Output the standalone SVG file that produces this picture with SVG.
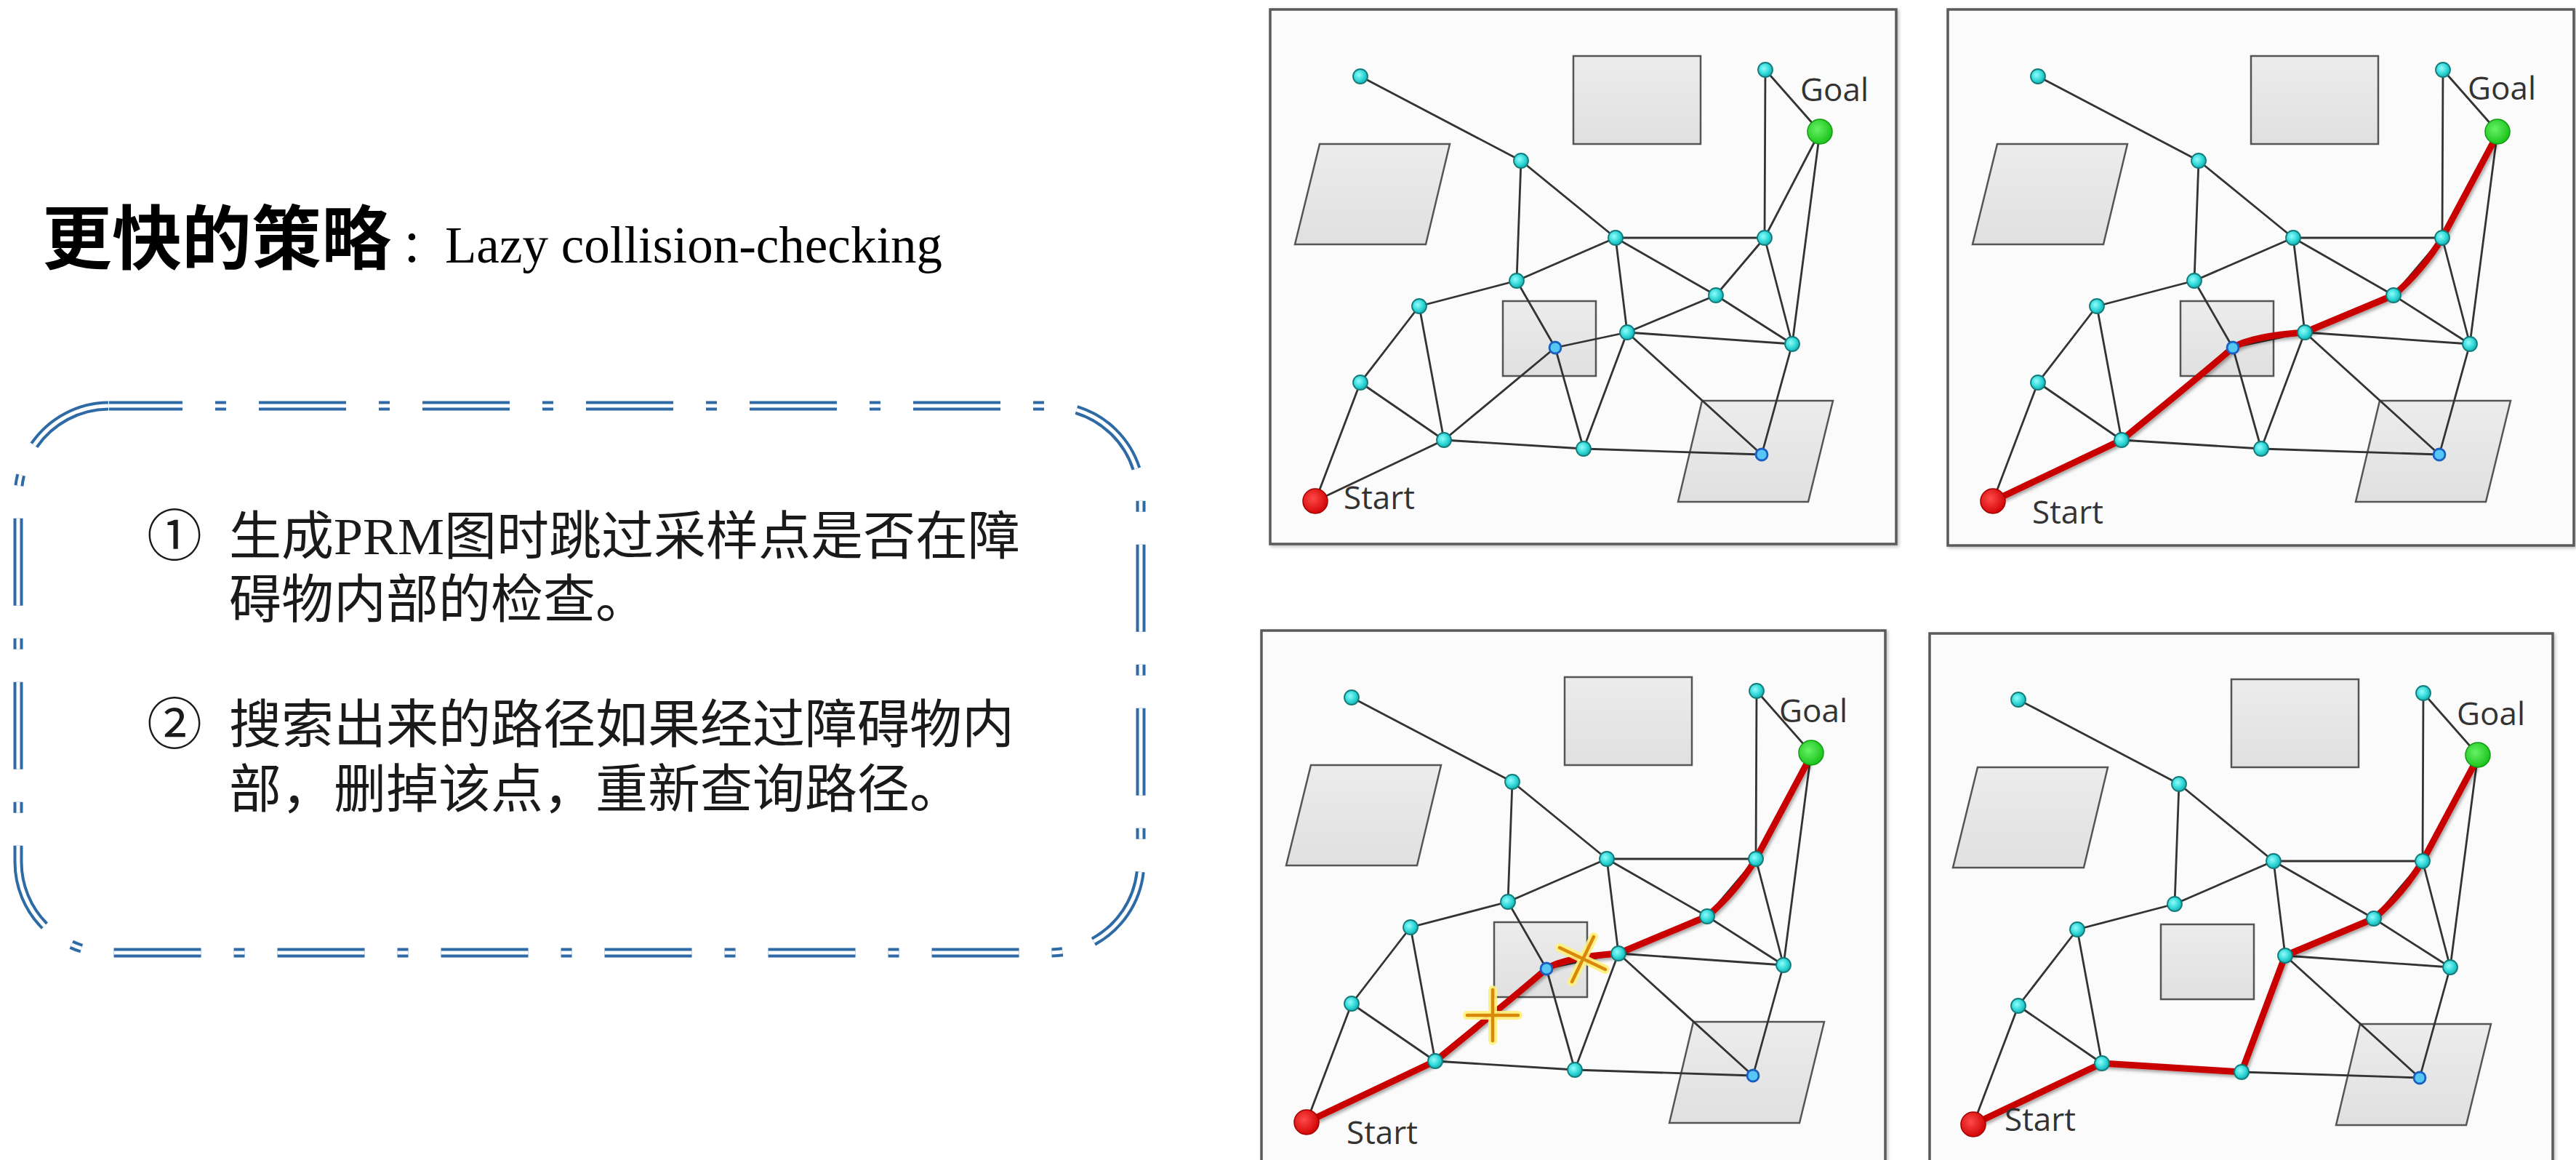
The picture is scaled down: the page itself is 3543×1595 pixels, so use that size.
<svg xmlns="http://www.w3.org/2000/svg" width="3543" height="1595" viewBox="0 0 3543 1595">
<defs>
<style>
.frame{fill:#fbfbfb;stroke:#5a5a5a;stroke-width:3.5;filter:url(#fsh)}
.obs{fill:url(#obsG);stroke:#555555;stroke-width:2.5}
.edge line{stroke:#333333;stroke-width:2.8;stroke-linecap:round}
.path{fill:none;stroke:#c80000;stroke-width:9;stroke-linejoin:round;stroke-linecap:round;filter:url(#sh)}
.dot{fill:url(#cy);stroke:#137a7a;stroke-width:1.8}
.bdot{fill:#56c6f4;stroke:#1a5fc0;stroke-width:2.8}
.goal{fill:url(#gr);stroke:#129a12;stroke-width:1.5}
.start{fill:url(#rd);stroke:#a00000;stroke-width:1.5}
.lbl{font-family:"Open Sans","Liberation Sans",sans-serif;font-size:44px;fill:#333}
.cjk{font-family:"Noto Sans CJK SC","Noto Sans CJK JP",sans-serif}
.bd1{fill:none;stroke:#2e6aa6;stroke-width:13;stroke-dasharray:120 45 15 45;stroke-dashoffset:19}
.bd2{fill:none;stroke:#ffffff;stroke-width:5;stroke-dasharray:120 45 15 45;stroke-dashoffset:19}
.glow{stroke:#fff27a;stroke-width:12;stroke-linecap:round;opacity:.9}
.cross{stroke:#d9880c;stroke-width:4.5;stroke-linecap:round}
.body{font-family:"Noto Sans CJK SC","Noto Sans CJK JP",sans-serif;font-size:72px;fill:#1a1a1a}
</style>
<radialGradient id="cy" cx="0.4" cy="0.4" r="0.65"><stop offset="0" stop-color="#8ffcfc"/><stop offset="0.6" stop-color="#2fd6d6"/><stop offset="1" stop-color="#15a8a8"/></radialGradient>
<radialGradient id="gr" cx="0.4" cy="0.4" r="0.65"><stop offset="0" stop-color="#66f266"/><stop offset="1" stop-color="#17c017"/></radialGradient>
<radialGradient id="rd" cx="0.4" cy="0.4" r="0.65"><stop offset="0" stop-color="#ff4a4a"/><stop offset="1" stop-color="#d00000"/></radialGradient>
<linearGradient id="obsG" x1="0" y1="0" x2="0" y2="1"><stop offset="0" stop-color="#ececec"/><stop offset="1" stop-color="#e0e0e0"/></linearGradient>
<filter id="sh" x="-10%" y="-10%" width="120%" height="120%"><feDropShadow dx="2" dy="3" stdDeviation="2" flood-color="#000" flood-opacity="0.35"/></filter>
<filter id="fsh" x="-2%" y="-2%" width="104%" height="104%"><feDropShadow dx="2" dy="2" stdDeviation="2" flood-color="#000" flood-opacity="0.25"/></filter>
</defs>
<rect width="3543" height="1595" fill="#ffffff"/>

<g id="title">
<text y="362" fill="#000"><tspan x="58" class="cjk" font-size="96" font-weight="700">更快的策略</tspan><tspan x="551" y="361" class="cjk" font-size="62">：</tspan><tspan x="612" y="361" font-family="Liberation Serif, serif" font-size="71">Lazy collision-checking</tspan></text>
</g>

<g id="textbox">
<path class="bd1" d="M150,558 H1444 A125,125 0 0 1 1569,683 V1185 A125,125 0 0 1 1444,1310 H150 A125,125 0 0 1 25,1185 V683 A125,125 0 0 1 150,558 Z"/>
<path class="bd2" d="M150,558 H1444 A125,125 0 0 1 1569,683 V1185 A125,125 0 0 1 1444,1310 H150 A125,125 0 0 1 25,1185 V683 A125,125 0 0 1 150,558 Z"/>
<text class="body"><tspan x="240" y="764" text-anchor="middle" font-size="76">①</tspan><tspan x="315" y="762">生成<tspan font-family="Liberation Serif, serif">PRM</tspan>图时跳过采样点是否在障</tspan><tspan x="315" y="849">碍物内部的检查。</tspan></text>
<text class="body"><tspan x="240" y="1023" text-anchor="middle" font-size="76">②</tspan><tspan x="315" y="1021">搜索出来的路径如果经过障碍物内</tspan><tspan x="315" y="1110">部，删掉该点，重新查询路径。</tspan></text>
</g>

<!-- Panel 1 -->
<g id="panel1">
<rect class="frame" x="1747" y="13" width="861" height="735"/>
<g id="p1-obstacles">
<rect class="obs" x="2164" y="77" width="175" height="121"/>
<polygon class="obs" points="1815,198 1994,198 1961,336 1781,336"/>
<rect class="obs" x="2067" y="414" width="128" height="103"/>
<polygon class="obs" points="2341,551 2521,551 2487,690 2308,690"/>
</g>
<g id="p1-connectors" class="edge">
<line x1="1871" y1="105" x2="2092" y2="221"/>
<line x1="2092" y1="221" x2="2086" y2="386"/>
<line x1="2092" y1="221" x2="2222" y2="327"/>
<line x1="2428" y1="96" x2="2503" y2="181"/>
<line x1="2428" y1="96" x2="2427" y2="327"/>
<line x1="2503" y1="181" x2="2427" y2="327"/>
<line x1="2503" y1="181" x2="2465" y2="473"/>
<line x1="2222" y1="327" x2="2427" y2="327"/>
<line x1="2222" y1="327" x2="2086" y2="386"/>
<line x1="2222" y1="327" x2="2360" y2="406"/>
<line x1="2222" y1="327" x2="2238" y2="457"/>
<line x1="2427" y1="327" x2="2360" y2="406"/>
<line x1="2427" y1="327" x2="2465" y2="473"/>
<line x1="2086" y1="386" x2="1952" y2="421"/>
<line x1="2086" y1="386" x2="2139" y2="478"/>
<line x1="2139" y1="478" x2="2178" y2="617"/>
<line x1="1952" y1="421" x2="1871" y2="526"/>
<line x1="1952" y1="421" x2="1986" y2="605"/>
<line x1="2360" y1="406" x2="2238" y2="457"/>
<line x1="2360" y1="406" x2="2465" y2="473"/>
<line x1="2238" y1="457" x2="2465" y2="473"/>
<line x1="2238" y1="457" x2="2139" y2="478"/>
<line x1="2238" y1="457" x2="2178" y2="617"/>
<line x1="2238" y1="457" x2="2423" y2="625"/>
<line x1="2465" y1="473" x2="2423" y2="625"/>
<line x1="2139" y1="478" x2="1986" y2="605"/>
<line x1="1871" y1="526" x2="1986" y2="605"/>
<line x1="1871" y1="526" x2="1809" y2="689"/>
<line x1="1986" y1="605" x2="1809" y2="689"/>
<line x1="1986" y1="605" x2="2178" y2="617"/>
<line x1="2178" y1="617" x2="2423" y2="625"/>
</g>
<g id="p1-n1"><circle class="dot" cx="1871" cy="105" r="10"/></g>
<g id="p1-n2"><circle class="dot" cx="2092" cy="221" r="10"/></g>
<g id="p1-n3"><circle class="dot" cx="2428" cy="96" r="10"/></g>
<g id="p1-n4"><circle class="dot" cx="2222" cy="327" r="10"/></g>
<g id="p1-n5"><circle class="dot" cx="2427" cy="327" r="10"/></g>
<g id="p1-n6"><circle class="dot" cx="2086" cy="386" r="10"/></g>
<g id="p1-n7"><circle class="dot" cx="1952" cy="421" r="10"/></g>
<g id="p1-n8"><circle class="dot" cx="2360" cy="406" r="10"/></g>
<g id="p1-n9"><circle class="dot" cx="2238" cy="457" r="10"/></g>
<g id="p1-n10"><circle class="dot" cx="2465" cy="473" r="10"/></g>
<g id="p1-n11"><circle class="bdot" cx="2139" cy="478" r="8"/></g>
<g id="p1-n12"><circle class="dot" cx="1871" cy="526" r="10"/></g>
<g id="p1-n13"><circle class="dot" cx="1986" cy="605" r="10"/></g>
<g id="p1-n14"><circle class="dot" cx="2178" cy="617" r="10"/></g>
<g id="p1-n15"><circle class="bdot" cx="2423" cy="625" r="8"/></g>
<g id="p1-goal"><circle class="goal" cx="2503" cy="181" r="17"/><text class="lbl" x="2476" y="139">Goal</text></g>
<g id="p1-start"><circle class="start" cx="1809" cy="689" r="17"/><text class="lbl" x="1848" y="700">Start</text></g>
</g>

<!-- Panel 2 -->
<g id="panel2" transform="translate(932,0)">
<rect class="frame" x="1747" y="13" width="861" height="737"/>
<g id="p2-obstacles">
<rect class="obs" x="2164" y="77" width="175" height="121"/>
<polygon class="obs" points="1815,198 1994,198 1961,336 1781,336"/>
<rect class="obs" x="2067" y="414" width="128" height="103"/>
<polygon class="obs" points="2341,551 2521,551 2487,690 2308,690"/>
</g>
<g id="p2-connectors" class="edge">
<line x1="1871" y1="105" x2="2092" y2="221"/>
<line x1="2092" y1="221" x2="2086" y2="386"/>
<line x1="2092" y1="221" x2="2222" y2="327"/>
<line x1="2428" y1="96" x2="2503" y2="181"/>
<line x1="2428" y1="96" x2="2427" y2="327"/>
<line x1="2503" y1="181" x2="2427" y2="327"/>
<line x1="2503" y1="181" x2="2465" y2="473"/>
<line x1="2222" y1="327" x2="2427" y2="327"/>
<line x1="2222" y1="327" x2="2086" y2="386"/>
<line x1="2222" y1="327" x2="2360" y2="406"/>
<line x1="2222" y1="327" x2="2238" y2="457"/>
<line x1="2427" y1="327" x2="2360" y2="406"/>
<line x1="2427" y1="327" x2="2465" y2="473"/>
<line x1="2086" y1="386" x2="1952" y2="421"/>
<line x1="2086" y1="386" x2="2139" y2="478"/>
<line x1="2139" y1="478" x2="2178" y2="617"/>
<line x1="1952" y1="421" x2="1871" y2="526"/>
<line x1="1952" y1="421" x2="1986" y2="605"/>
<line x1="2360" y1="406" x2="2238" y2="457"/>
<line x1="2360" y1="406" x2="2465" y2="473"/>
<line x1="2238" y1="457" x2="2465" y2="473"/>
<line x1="2238" y1="457" x2="2139" y2="478"/>
<line x1="2238" y1="457" x2="2178" y2="617"/>
<line x1="2238" y1="457" x2="2423" y2="625"/>
<line x1="2465" y1="473" x2="2423" y2="625"/>
<line x1="2139" y1="478" x2="1986" y2="605"/>
<line x1="1871" y1="526" x2="1986" y2="605"/>
<line x1="1871" y1="526" x2="1809" y2="689"/>
<line x1="1986" y1="605" x2="1809" y2="689"/>
<line x1="1986" y1="605" x2="2178" y2="617"/>
<line x1="2178" y1="617" x2="2423" y2="625"/>
<path class="path" d="M1809,689 L1986,605 Q2105,508 2139,478 Q2165,462 2238,457 L2360,406 Q2400,372 2427,327 L2497,196"/>
</g>
<g id="p2-n1"><circle class="dot" cx="1871" cy="105" r="10"/></g>
<g id="p2-n2"><circle class="dot" cx="2092" cy="221" r="10"/></g>
<g id="p2-n3"><circle class="dot" cx="2428" cy="96" r="10"/></g>
<g id="p2-n4"><circle class="dot" cx="2222" cy="327" r="10"/></g>
<g id="p2-n5"><circle class="dot" cx="2427" cy="327" r="10"/></g>
<g id="p2-n6"><circle class="dot" cx="2086" cy="386" r="10"/></g>
<g id="p2-n7"><circle class="dot" cx="1952" cy="421" r="10"/></g>
<g id="p2-n8"><circle class="dot" cx="2360" cy="406" r="10"/></g>
<g id="p2-n9"><circle class="dot" cx="2238" cy="457" r="10"/></g>
<g id="p2-n10"><circle class="dot" cx="2465" cy="473" r="10"/></g>
<g id="p2-n11"><circle class="bdot" cx="2139" cy="478" r="8"/></g>
<g id="p2-n12"><circle class="dot" cx="1871" cy="526" r="10"/></g>
<g id="p2-n13"><circle class="dot" cx="1986" cy="605" r="10"/></g>
<g id="p2-n14"><circle class="dot" cx="2178" cy="617" r="10"/></g>
<g id="p2-n15"><circle class="bdot" cx="2423" cy="625" r="8"/></g>
<g id="p2-goal"><circle class="goal" cx="2503" cy="181" r="17"/><text class="lbl" x="2462" y="137">Goal</text></g>
<g id="p2-start"><circle class="start" cx="1809" cy="689" r="17"/><text class="lbl" x="1863" y="720">Start</text></g>
</g>

<!-- Panel 3 -->
<g id="panel3" transform="translate(-12,854)">
<rect class="frame" x="1747" y="13" width="858" height="760"/>
<g id="p3-obstacles">
<rect class="obs" x="2164" y="77" width="175" height="121"/>
<polygon class="obs" points="1815,198 1994,198 1961,336 1781,336"/>
<rect class="obs" x="2067" y="414" width="128" height="103"/>
<polygon class="obs" points="2341,551 2521,551 2487,690 2308,690"/>
</g>
<g id="p3-connectors" class="edge">
<line x1="1871" y1="105" x2="2092" y2="221"/>
<line x1="2092" y1="221" x2="2086" y2="386"/>
<line x1="2092" y1="221" x2="2222" y2="327"/>
<line x1="2428" y1="96" x2="2503" y2="181"/>
<line x1="2428" y1="96" x2="2427" y2="327"/>
<line x1="2503" y1="181" x2="2427" y2="327"/>
<line x1="2503" y1="181" x2="2465" y2="473"/>
<line x1="2222" y1="327" x2="2427" y2="327"/>
<line x1="2222" y1="327" x2="2086" y2="386"/>
<line x1="2222" y1="327" x2="2360" y2="406"/>
<line x1="2222" y1="327" x2="2238" y2="457"/>
<line x1="2427" y1="327" x2="2360" y2="406"/>
<line x1="2427" y1="327" x2="2465" y2="473"/>
<line x1="2086" y1="386" x2="1952" y2="421"/>
<line x1="2086" y1="386" x2="2139" y2="478"/>
<line x1="2139" y1="478" x2="2178" y2="617"/>
<line x1="1952" y1="421" x2="1871" y2="526"/>
<line x1="1952" y1="421" x2="1986" y2="605"/>
<line x1="2360" y1="406" x2="2238" y2="457"/>
<line x1="2360" y1="406" x2="2465" y2="473"/>
<line x1="2238" y1="457" x2="2465" y2="473"/>
<line x1="2238" y1="457" x2="2139" y2="478"/>
<line x1="2238" y1="457" x2="2178" y2="617"/>
<line x1="2238" y1="457" x2="2423" y2="625"/>
<line x1="2465" y1="473" x2="2423" y2="625"/>
<line x1="2139" y1="478" x2="1986" y2="605"/>
<line x1="1871" y1="526" x2="1986" y2="605"/>
<line x1="1871" y1="526" x2="1809" y2="689"/>
<line x1="1986" y1="605" x2="1809" y2="689"/>
<line x1="1986" y1="605" x2="2178" y2="617"/>
<line x1="2178" y1="617" x2="2423" y2="625"/>
<path class="path" d="M1809,689 L1986,605 Q2105,508 2139,478 Q2165,462 2238,457 L2360,406 Q2400,372 2427,327 L2497,196"/>
</g>
<g id="p3-n1"><circle class="dot" cx="1871" cy="105" r="10"/></g>
<g id="p3-n2"><circle class="dot" cx="2092" cy="221" r="10"/></g>
<g id="p3-n3"><circle class="dot" cx="2428" cy="96" r="10"/></g>
<g id="p3-n4"><circle class="dot" cx="2222" cy="327" r="10"/></g>
<g id="p3-n5"><circle class="dot" cx="2427" cy="327" r="10"/></g>
<g id="p3-n6"><circle class="dot" cx="2086" cy="386" r="10"/></g>
<g id="p3-n7"><circle class="dot" cx="1952" cy="421" r="10"/></g>
<g id="p3-n8"><circle class="dot" cx="2360" cy="406" r="10"/></g>
<g id="p3-n9"><circle class="dot" cx="2238" cy="457" r="10"/></g>
<g id="p3-n10"><circle class="dot" cx="2465" cy="473" r="10"/></g>
<g id="p3-n11"><circle class="bdot" cx="2139" cy="478" r="8"/></g>
<g id="p3-n12"><circle class="dot" cx="1871" cy="526" r="10"/></g>
<g id="p3-n13"><circle class="dot" cx="1986" cy="605" r="10"/></g>
<g id="p3-n14"><circle class="dot" cx="2178" cy="617" r="10"/></g>
<g id="p3-n15"><circle class="bdot" cx="2423" cy="625" r="8"/></g>
<g id="p3-goal"><circle class="goal" cx="2503" cy="181" r="17"/><text class="lbl" x="2459" y="139">Goal</text></g>
<g id="p3-start"><circle class="start" cx="1809" cy="689" r="17"/><text class="lbl" x="1864" y="719">Start</text></g>
<g id="p3-cross-plus">
<line class="glow" x1="2030" y1="542" x2="2100" y2="542"/>
<line class="glow" x1="2065" y1="507" x2="2065" y2="577"/>
<line class="cross" x1="2030" y1="542" x2="2100" y2="542"/>
<line class="cross" x1="2065" y1="507" x2="2065" y2="577"/>
</g>
<g id="p3-cross-x">
<line class="glow" x1="2157" y1="449" x2="2220" y2="479"/>
<line class="glow" x1="2204" y1="434" x2="2174" y2="496"/>
<line class="cross" x1="2157" y1="449" x2="2220" y2="479"/>
<line class="cross" x1="2204" y1="434" x2="2174" y2="496"/>
</g>
</g>

<!-- Panel 4 -->
<g id="panel4" transform="translate(905,857)">
<rect class="frame" x="1749" y="14" width="857" height="760"/>
<g id="p4-obstacles">
<rect class="obs" x="2164" y="77" width="175" height="121"/>
<polygon class="obs" points="1815,198 1994,198 1961,336 1781,336"/>
<rect class="obs" x="2067" y="414" width="128" height="103"/>
<polygon class="obs" points="2341,551 2521,551 2487,690 2308,690"/>
</g>
<g id="p4-connectors" class="edge">
<line x1="1871" y1="105" x2="2092" y2="221"/>
<line x1="2092" y1="221" x2="2086" y2="386"/>
<line x1="2092" y1="221" x2="2222" y2="327"/>
<line x1="2428" y1="96" x2="2503" y2="181"/>
<line x1="2428" y1="96" x2="2427" y2="327"/>
<line x1="2503" y1="181" x2="2427" y2="327"/>
<line x1="2503" y1="181" x2="2465" y2="473"/>
<line x1="2222" y1="327" x2="2427" y2="327"/>
<line x1="2222" y1="327" x2="2086" y2="386"/>
<line x1="2222" y1="327" x2="2360" y2="406"/>
<line x1="2222" y1="327" x2="2238" y2="457"/>
<line x1="2427" y1="327" x2="2360" y2="406"/>
<line x1="2427" y1="327" x2="2465" y2="473"/>
<line x1="2086" y1="386" x2="1952" y2="421"/>
<line x1="1952" y1="421" x2="1871" y2="526"/>
<line x1="1952" y1="421" x2="1986" y2="605"/>
<line x1="2360" y1="406" x2="2238" y2="457"/>
<line x1="2360" y1="406" x2="2465" y2="473"/>
<line x1="2238" y1="457" x2="2465" y2="473"/>
<line x1="2238" y1="457" x2="2178" y2="617"/>
<line x1="2238" y1="457" x2="2423" y2="625"/>
<line x1="2465" y1="473" x2="2423" y2="625"/>
<line x1="1871" y1="526" x2="1986" y2="605"/>
<line x1="1871" y1="526" x2="1809" y2="689"/>
<line x1="1986" y1="605" x2="1809" y2="689"/>
<line x1="1986" y1="605" x2="2178" y2="617"/>
<line x1="2178" y1="617" x2="2423" y2="625"/>
<path class="path" d="M1809,689 L1986,605 L2178,617 L2238,457 L2360,406 Q2400,372 2427,327 L2497,196"/>
</g>
<g id="p4-n1"><circle class="dot" cx="1871" cy="105" r="10"/></g>
<g id="p4-n2"><circle class="dot" cx="2092" cy="221" r="10"/></g>
<g id="p4-n3"><circle class="dot" cx="2428" cy="96" r="10"/></g>
<g id="p4-n4"><circle class="dot" cx="2222" cy="327" r="10"/></g>
<g id="p4-n5"><circle class="dot" cx="2427" cy="327" r="10"/></g>
<g id="p4-n6"><circle class="dot" cx="2086" cy="386" r="10"/></g>
<g id="p4-n7"><circle class="dot" cx="1952" cy="421" r="10"/></g>
<g id="p4-n8"><circle class="dot" cx="2360" cy="406" r="10"/></g>
<g id="p4-n9"><circle class="dot" cx="2238" cy="457" r="10"/></g>
<g id="p4-n10"><circle class="dot" cx="2465" cy="473" r="10"/></g>
<g id="p4-n12"><circle class="dot" cx="1871" cy="526" r="10"/></g>
<g id="p4-n13"><circle class="dot" cx="1986" cy="605" r="10"/></g>
<g id="p4-n14"><circle class="dot" cx="2178" cy="617" r="10"/></g>
<g id="p4-n15"><circle class="bdot" cx="2423" cy="625" r="8"/></g>
<g id="p4-goal"><circle class="goal" cx="2503" cy="181" r="17"/><text class="lbl" x="2474" y="140">Goal</text></g>
<g id="p4-start"><circle class="start" cx="1809" cy="689" r="17"/><text class="lbl" x="1852" y="698">Start</text></g>
</g>
</svg>
